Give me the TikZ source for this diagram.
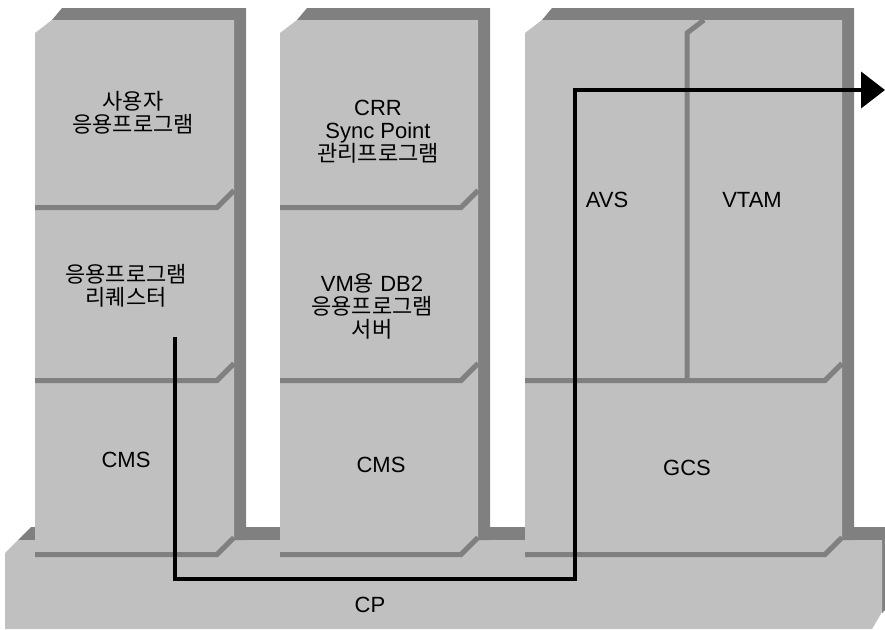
\documentclass[tikz,border=0pt]{standalone}
\usepackage{fontspec}
\setmainfont{Liberation Sans}
\newfontfamily\kr{Noto Sans CJK KR}
\usetikzlibrary{arrows.meta}
\definecolor{face}{HTML}{C0C0C0}
\definecolor{edge}{HTML}{808080}
\begin{document}
\begin{tikzpicture}[x=1pt,y=-1pt,
  lbl/.style={font=\fontsize{22}{23}\selectfont, align=center, text=black, inner sep=0pt},
  sep/.style={draw=edge, line width=5pt},
  flow/.style={draw=black, line width=4pt}]
\useasboundingbox (0,0) rectangle (885,629);
\fill[white] (0,0) rectangle (885,629);
% base (CP)
\fill[edge] (18,540) -- (31,527) -- (890,527) -- (890,605) -- (882,613) -- (882,540) -- cycle;
\fill[face] (5,553) -- (18,540) -- (882,540) -- (882,612) -- (872,629) -- (5,629) -- cycle;
% columns
\foreach \xa/\xb in {35/234, 280/478, 525/842}{
  \fill[edge] (\xa+17,20) -- (\xa+27,8) -- (\xb+12,8) -- (\xb+12,540) -- (\xb,540) -- (\xb,20) -- cycle;
  \fill[face] (\xa,33) -- (\xa+17,20) -- (\xb,20) -- (\xb,556) -- (\xa,556) -- cycle;
  \draw[sep] (\xa,380.5) -- (\xb-17,380.5) -- (\xb,363.5);
  \draw[sep] (\xa,554.5) -- (\xb-17,554.5) -- (\xb,537.5);
}
\foreach \xa/\xb in {35/234, 280/478}{
  \draw[sep] (\xa,207.5) -- (\xb-17,207.5) -- (\xb,190.5);
}
\draw[sep] (687,380.5) -- (687,33) -- (704,20);
% labels
\node[lbl] (uapp) at (133,113) {{\kr 사용자}\\{\kr 응용프로그램}};
\node[lbl] (areq) at (126,286) {{\kr 응용프로그램}\\{\kr 리퀘스터}};
\node[lbl] (cms1) at (126,460) {CMS};
\node[lbl] (crr) at (378,132) {CRR\\Sync Point\\{\kr 관리프로그램}};
\node[lbl] (srv) at (372,306) {VM{\kr 용} DB2\\{\kr 응용프로그램}\\{\kr 서버}};
\node[lbl] (cms2) at (381,465) {CMS};
\node[lbl] (avs) at (607,200) {AVS};
\node[lbl] (vtam) at (752,200) {VTAM};
\node[lbl] (gcs) at (687,468) {GCS};
\node[lbl] (cp) at (370,605) {CP};
% flow
\coordinate (src) at (175,337);
\coordinate (k1) at (175,578.5);
\coordinate (k2) at (574.5,578.5);
\coordinate (k3) at (574.5,90);
\coordinate (dst) at (885,90);
\draw[flow, -{Triangle[length=24pt,width=36pt]}] (src) -- (k1) -- (k2) -- (k3) -- (dst);
\end{tikzpicture}
\end{document}
